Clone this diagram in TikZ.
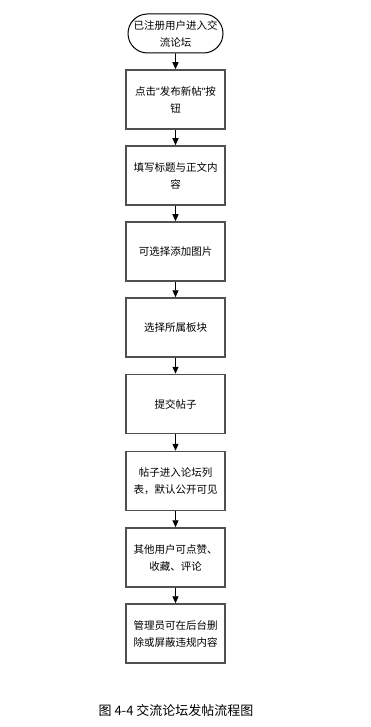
\documentclass[tikz,border=0pt]{standalone}
\usepackage{fontspec}
\usepackage{tikz}
\usetikzlibrary{arrows.meta,shapes.misc}
\setmainfont{Noto Sans CJK SC}
\newfontfamily\capfont{Noto Sans CJK SC}
\newfontfamily\latinfont[Ligatures=NoCommon]{Liberation Sans}
\newcommand{\qmark}{{\latinfont\symbol{"22}}}
\definecolor{flowedge}{HTML}{505050}

\begin{document}
\begin{tikzpicture}[
  x=1pt,y=-1pt,
  stepbox/.style={draw=flowedge,line width=1.5pt,fill=white,minimum width=99pt,minimum height=59pt,
    align=center,font=\fontsize{10.5}{17}\selectfont,inner sep=2pt},
  startbox/.style={rounded rectangle,draw=black,line width=1pt,fill=white,minimum width=99pt,minimum height=39pt,
    align=center,font=\fontsize{10.5}{17}\selectfont,inner sep=2pt},
  flow/.style={draw=black,line width=0.9pt,-{Triangle[length=7pt,width=6pt]}}
]
\useasboundingbox (0,0) rectangle (371,727);
\node[startbox] (enter) at (175.5,33.5) {已注册用户进入交\\流论坛};
\node[stepbox] (click) at (175.5,99.5) {点击\qmark 发布新帖\qmark 按\\钮};
\node[stepbox] (fill) at (175.5,175.5) {填写标题与正文内\\容};
\node[stepbox] (image) at (175.5,251.5) {可选择添加图片};
\node[stepbox] (board) at (175.5,327.5) {选择所属板块};
\node[stepbox] (submit) at (175.5,404) {提交帖子};
\node[stepbox] (listed) at (175.5,481) {帖子进入论坛列\\表，默认公开可见};
\node[stepbox] (react) at (175.5,557.5) {其他用户可点赞、\\收藏、评论};
\node[stepbox] (admin) at (175.5,633.5) {管理员可在后台删\\除或屏蔽违规内容};
\draw[flow] (enter) -- (click);
\draw[flow] (click) -- (fill);
\draw[flow] (fill) -- (image);
\draw[flow] (image) -- (board);
\draw[flow] (board) -- (submit);
\draw[flow] (submit) -- (listed);
\draw[flow] (listed) -- (react);
\draw[flow] (react) -- (admin);
\node[font=\fontsize{13}{15}\capfont] (caption) at (176,711) {图 4-4 交流论坛发帖流程图};
\end{tikzpicture}
\end{document}
